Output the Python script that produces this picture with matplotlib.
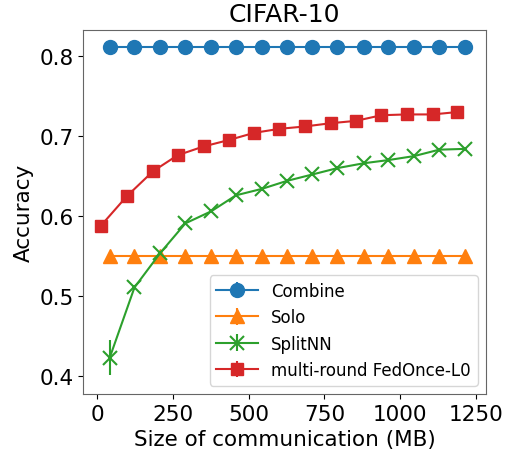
import matplotlib
matplotlib.use('Agg')
import matplotlib.pyplot as plt

# Data
x_base = [41, 123, 208, 291, 376, 458, 543, 626, 710, 793, 879, 961, 1046, 1129, 1214]
x_fedonce = [12, 98, 184, 265, 351, 434, 518, 601, 686, 770, 854, 938, 1021, 1107, 1189]

combine = [0.811] * 15
solo = [0.550] * 15
splitnn = [0.423, 0.511, 0.554, 0.591, 0.606, 0.626, 0.634, 0.644, 0.652, 0.660, 0.666, 0.670, 0.675, 0.683, 0.684]
splitnn_err = [0.022, 0.003, 0.002, 0.002, 0.002, 0.002, 0.002, 0.002, 0.002, 0.002, 0.002, 0.002, 0.002, 0.002, 0.002]
fedonce = [0.588, 0.625, 0.656, 0.676, 0.687, 0.695, 0.704, 0.709, 0.712, 0.716, 0.719, 0.726, 0.727, 0.727, 0.730]
fedonce_err = [0.002] * 15
combine_err = [0.001] * 15
solo_err = [0.001] * 15

fig, ax = plt.subplots(figsize=(5.11, 4.56), dpi=100)
ax.errorbar(x_base, combine, yerr=combine_err, marker='o', ms=10, color='tab:blue', label='Combine')
ax.errorbar(x_base, solo, yerr=solo_err, marker='^', ms=10, color='tab:orange', label='Solo')
ax.errorbar(x_base, splitnn, yerr=splitnn_err, marker='x', ms=10, mew=1.5, color='tab:green', label='SplitNN')
ax.errorbar(x_fedonce, fedonce, yerr=fedonce_err, marker='s', ms=9, color='tab:red', label='multi-round FedOnce-L0')

ax.set_xlim(-46, 1283)
ax.set_ylim(0.378, 0.833)
ax.set_xticks([0, 250, 500, 750, 1000, 1250])
ax.set_yticks([0.4, 0.5, 0.6, 0.7, 0.8])
ax.tick_params(labelsize=15.5)
ax.set_xlabel('Size of communication (MB)', fontsize=15.5)
ax.set_ylabel('Accuracy', fontsize=15.5)
ax.set_title('CIFAR-10', fontsize=18)
for s in ax.spines.values():
    s.set_color('#666666')
ax.legend(loc='lower right', fontsize=12, handlelength=2.5)

fig.subplots_adjust(left=0.163, right=0.951, top=0.933, bottom=0.134)
fig.savefig('out.png')
